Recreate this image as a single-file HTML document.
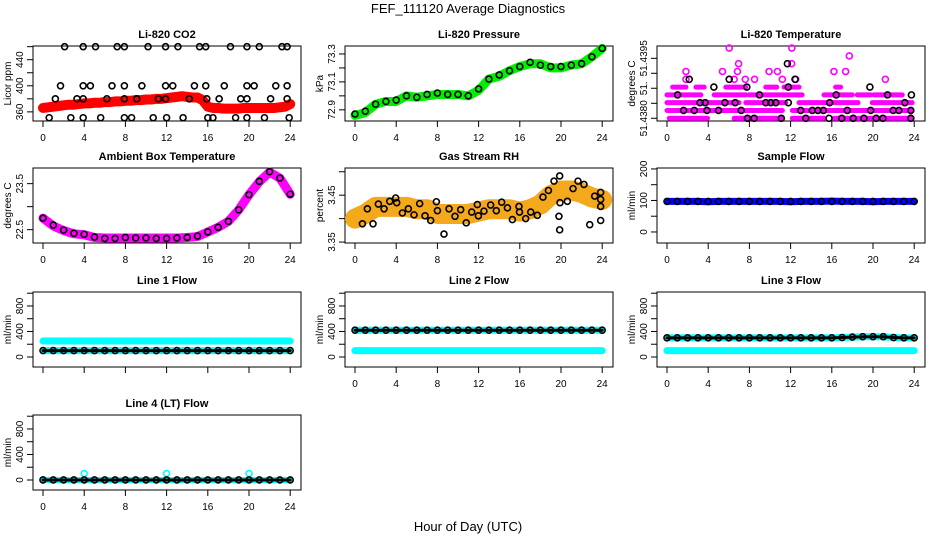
<!DOCTYPE html>
<html><head><meta charset="utf-8"><style>
html,body{margin:0;padding:0;background:#fff;}
svg{display:block;font-family:"Liberation Sans",sans-serif;}
</style></head><body>
<svg id="c" width="936" height="540" viewBox="0 0 936 540">
<text x="468" y="13" text-anchor="middle" font-size="13">FEF_111120  Average Diagnostics</text>
<text x="468" y="531" text-anchor="middle" font-size="13">Hour of Day (UTC)</text>
</svg>
<script>
// ---------- data ----------
const xTicks = [0,4,8,12,16,20,24];
// CO2
const co2Red = [366,367,368,369,370,371,371,372,373,373,374,374,375,375,376,376,377,377,378,378,379,379,380,380,381,382,383,384,383,382,382,378,368,366,366,365,365,365,365,366,366,366,366,366,366,366,367,368,372];
const co2BlkH = [2.1,3.9,5.1,7.2,7.9,10.2,11.9,13.1,15.2,15.8,18.2,19.8,21.0,23.2,23.7, 1.7,3.9,4.6,6.7,7.9,9.6,11.9,12.6,14.7,15.8,17.6,19.8,20.5,22.6,23.7, 1.2,3.3,3.9,6.2,7.9,9.1,11.2,11.9,14.2,15.9,17.1,19.2,19.8,22.1,23.7, 0.6,2.7,3.9,5.6,7.9,8.6,10.7,12.0,13.6,16.0,16.5,18.7,19.8,21.5,23.9];
const co2BlkV = [460,460,460,460,460,460,460,460,460,460,460,460,460,460,460, 400,400,400,400,400,400,400,400,400,400,400,400,400,400,400, 380,380,380,380,380,380,380,380,380,380,380,380,380,380,380, 351,351,351,351,351,351,351,351,351,351,351,351,351,351,351];
// Pressure
const presGreen = [72.86,72.88,72.94,72.96,72.96,73.0,72.99,73.0,73.01,73.01,73.01,73.0,73.04,73.12,73.14,73.18,73.21,73.23,73.23,73.2,73.2,73.22,73.23,73.28,73.34];
const presBlack = [72.87,72.89,72.94,72.96,72.97,73.0,72.99,73.01,73.02,73.01,73.01,73.0,73.05,73.12,73.15,73.18,73.21,73.24,73.22,73.21,73.21,73.22,73.23,73.28,73.34];
// Li-820 temperature (quantized levels)
const tempSegLvl = [0,0,0,0, 1,1, 2,2,2,2, 3,3,3,3,3,3, 4,4,4,4,4,4];
const tempSegA   = [0.22,6.52,12.17,16.21, 0,12.17, 0,7.65,12.82,19.93, 0,4.58,7.97,15.24,18.47,20.09, 0.55,2.81,5.71,9.59,11.36,16.37];
const tempSegB   = [3.94,11.2,15.24,23.8, 11.2,23.8, 7.0,11.52,18.64,23.8, 3.29,7.65,13.14,17.99,19.77,22.84, 1.84,3.61,7.65,10.72,12.82,16.86];
const tempMagH = [1.84,5.39,6.84,9.91,10.72,16.21,17.34, 1.84,6.52,7.6,8.5,11.2,12.5,21.2, 6.95,12.1, 17.7, 6.04,12.12];
const tempMagL = [6,6,6,6,6,6,6, 5,5,5,5,5,5,5, 7,7, 8, 9,9];
const tempBlkH = [2.16,1.03,1.61,2.65,3.2,3.71,3.88,4.55,5.0,5.62,6.04,6.62,7.2,7.75,7.81,8.46,8.98,9.59,10.08,10.56,11.1,11.69,11.78,11.78,12.43,12.98,13.47,14.11,14.66,15.18,15.79,15.73,16.43,16.96,17.5,18.08,19.12,19.7,19.77,20.31,20.96,21.41,21.96,22.51,23.09,23.67,23.73,23.67];
const tempBlkL = [5,3,1,1,2,2,1,4,1,2,5,2,1,4,0,0,3,2,2,2,0,7,4,2,5,1,0,1,1,1,2,0,3,0,1,0,0,4,1,0,0,3,1,1,2,1,3,0];
// Ambient box temperature
const ambMag = [22.75,22.58,22.48,22.41,22.39,22.33,22.32,22.32,22.32,22.32,22.32,22.32,22.32,22.32,22.33,22.35,22.45,22.55,22.68,22.93,23.26,23.54,23.75,23.62,23.27];
const ambBlk = [22.75,22.6,22.49,22.42,22.4,22.34,22.31,22.31,22.33,22.32,22.32,22.31,22.31,22.32,22.33,22.36,22.45,22.55,22.68,22.93,23.26,23.55,23.76,23.62,23.27];
// Gas stream RH
const rhOrange = [3.40,3.41,3.425,3.425,3.425,3.425,3.42,3.42,3.41,3.41,3.41,3.41,3.415,3.42,3.42,3.42,3.415,3.42,3.43,3.45,3.46,3.46,3.455,3.445,3.44];
const rhBlkH = [0.72,1.2,1.75,2.27,2.82,3.37,3.95,4.05,4.6,5.18,5.73,6.28,6.8,7.35,7.9,8.0,8.64,9.13,9.71,10.26,10.8,11.33,11.88,11.98,12.52,13.17,13.72,14.24,14.8,15.28,15.92,15.97,16.57,17.06,17.7,18.25,18.78,19.32,19.87,19.9,19.8,19.87,20.62,21.17,21.65,22.23,22.79,23.27,23.85,23.85,23.85,23.85];
const rhBlkV = [3.389,3.421,3.389,3.431,3.421,3.437,3.444,3.434,3.412,3.421,3.408,3.432,3.406,3.396,3.436,3.417,3.367,3.421,3.405,3.419,3.391,3.414,3.43,3.406,3.416,3.429,3.417,3.435,3.423,3.398,3.426,3.414,3.4,3.414,3.407,3.446,3.46,3.48,3.491,3.434,3.405,3.376,3.437,3.464,3.48,3.473,3.387,3.448,3.456,3.441,3.426,3.396];
// Flows (hourly)
const sampleBlue  = [97,97,97,97,96,97,97,97,97,97,97,97,96,97,97,97,98,97,97,97,96,97,97,97,97];
const sampleBlack = [97,97,97,97,97,97,97,97,97,97,97,97,97,97,97,97,97,97,97,97,97,97,97,97,97];
const line1Cyan  = [250,250,250,250,250,250,250,250,250,250,250,250,250,250,250,250,250,250,250,250,250,250,250,250,250];
const line1Black = [100,100,100,100,100,100,100,100,100,100,100,100,100,100,100,100,100,100,100,100,100,100,100,100,100];
const line2Black = [420,420,420,420,420,420,420,420,420,420,420,420,420,420,420,420,420,420,420,420,420,420,420,420,420];
const line2Cyan  = [100,100,100,100,100,100,100,100,100,100,100,100,100,100,100,100,100,100,100,100,100,100,100,100,100];
const line3Black = [300,300,300,300,300,300,300,300,300,300,300,300,300,300,300,300,300,305,312,318,318,318,305,300,300];
const line3Cyan  = [100,100,100,100,100,100,100,100,100,100,100,100,100,100,100,100,100,100,100,100,100,100,100,100,100];
const line4Black = [0,0,0,0,0,0,0,0,0,0,0,0,0,0,0,0,0,0,0,0,0,0,0,0,0];
const line4CyanH = [0,4,12,20];
const line4CyanV = [0,100,100,100];

// ---------- drawing ----------
const svg = document.getElementById('c');
const NS = 'http://www.w3.org/2000/svg';
const ROWT = [46,168,292,415];
function mk(tag, attrs, parent){
  const e = document.createElementNS(NS, tag);
  for (const k in attrs) e.setAttribute(k, attrs[k]);
  (parent||svg).appendChild(e);
  return e;
}
function hrs(n){ const a=[]; for(let i=0;i<n;i++) a.push(i*24/(n-1)); return a; }

function panel(col,row,title,ylab,ymin,ymax,yt,ytl,xlabels,name){
  const g = mk('g',{});
  
  
  const L=33+col*312, R=301+col*312, T=ROWT[row], B=T+75;
  const sx = h => 43+col*312+h*10.3;
  const sy = v => B-(v-ymin)/(ymax-ymin)*75;
  const t = mk('text',{x:(L+R)/2,y:T-8,'text-anchor':'middle','font-size':11,'font-weight':'bold'},g);
  t.textContent = title;
  
  
  const box = mk('rect',{x:L,y:T,width:R-L,height:75,fill:'none',stroke:'#000','stroke-width':1},g);
  
  
  xTicks.forEach(h=>{
    mk('line',{x1:sx(h),x2:sx(h),y1:B,y2:B+6,stroke:'#000'},g);
    if (xlabels){
      const tl = mk('text',{x:sx(h),y:B+20,'text-anchor':'middle','font-size':10},g);
      tl.textContent = h;
      
      
    }
  });
  yt.forEach((v,i)=>{
    mk('line',{x1:L-6,x2:L,y1:sy(v),y2:sy(v),stroke:'#000'},g);
    if (ytl[i]){
      const tl = mk('text',{x:0,y:0,'text-anchor':'middle','font-size':10,transform:`translate(${L-10},${sy(v)}) rotate(-90)`},g);
      tl.textContent = ytl[i];
      
      
    }
  });
  const yl = mk('text',{x:0,y:0,'text-anchor':'middle','font-size':10,transform:`translate(${L-22},${(T+B)/2}) rotate(-90)`},g);
  yl.textContent = ylab;
  
  
  const clip = mk('g',{},g);
  return {g:clip,sx,sy};
}
function band(p,hs,vs,color,w,name){
  const pts = hs.map((h,i)=>p.sx(h)+','+p.sy(vs[i])).join(' ');
  const e = mk('polyline',{points:pts,fill:'none',stroke:color,'stroke-width':w,'stroke-linejoin':'round','stroke-linecap':'round'},p.g);
  
  
}
function pts(p,hs,vs,color,name,r,sw){
  hs.forEach((h,i)=>{
    const c = mk('circle',{cx:p.sx(h),cy:p.sy(vs[i]),r:r||3,fill:'none',stroke:color,'stroke-width':sw||1.6},p.g);
    
    
  });
}

// Row 1
let p = panel(0,0,'Li-820 CO2','Licor ppm',346,461,[360,380,400,420,440,460],['360','','400','','440',''],true,'panel-co2');
band(p,hrs(co2Red.length),co2Red,'#ff0000',10,'co2-band');
pts(p,hrs(co2Red.length),co2Red,'#ff0000','co2-point');
pts(p,co2BlkH,co2BlkV,'#000','co2-avg-point');

p = panel(1,0,'Li-820 Pressure','kPa',72.82,73.357,[72.9,73.0,73.1,73.2,73.3],['72.9','','73.1','','73.3'],true,'panel-pressure');
band(p,hrs(presGreen.length),presGreen,'#00ee00',9,'pressure-band');
pts(p,hrs(presGreen.length),presGreen,'#00ee00','pressure-point');
pts(p,hrs(presBlack.length),presBlack,'#000','pressure-avg-point');

p = panel(2,0,'Li-820 Temperature','degrees C',-0.35,9.27,[0,1.92,3.85,5.77,7.69],['51.4380','','51.','','51.4395'],true,'panel-licor-temp');
tempSegLvl.forEach((l,i)=>{
  const e = mk('line',{x1:p.sx(tempSegA[i]),x2:p.sx(tempSegB[i]),y1:p.sy(l),y2:p.sy(l),stroke:'#ff00ff','stroke-width':5,'stroke-linecap':'round','stroke-dasharray':'5 1'},p.g);
  
  
});
pts(p,tempMagH,tempMagL,'#ff00ff','temp-point');
pts(p,tempBlkH,tempBlkL,'#000','temp-avg-point');

// Row 2
p = panel(0,1,'Ambient Box Temperature','degrees C',22.21,23.84,[22.5,23.0,23.5],['22.5','','23.5'],true,'panel-ambient-temp');
band(p,hrs(ambMag.length),ambMag,'#ff00ff',9,'ambient-band');
pts(p,hrs(ambBlk.length),ambBlk,'#000','ambient-avg-point');

p = panel(1,1,'Gas Stream RH','percent',3.348,3.508,[3.35,3.40,3.45,3.50],['3.35','','3.45',''],true,'panel-rh');
band(p,hrs(rhOrange.length),rhOrange,'#f4a81c',20,'rh-band');
pts(p,rhBlkH,rhBlkV,'#000','rh-avg-point');

p = panel(2,1,'Sample Flow','ml/min',-35,203,[0,50,100,150,200],['0','','100','','200'],true,'panel-sample-flow');
band(p,hrs(sampleBlue.length),sampleBlue,'#0000ff',7,'sample-band');
pts(p,hrs(sampleBlack.length),sampleBlack,'#000','sample-avg-point');

// Row 3
const fT=[0,200,400,600,800,1000], fL=['0','','400','','800',''];
p = panel(0,2,'Line 1 Flow','ml/min',-157,1019,fT,fL,false,'panel-line1');
band(p,hrs(line1Cyan.length),line1Cyan,'#00ffff',7,'line1-band-high');
band(p,hrs(line1Black.length),line1Black,'#00ffff',7,'line1-band-low');
band(p,hrs(line1Black.length),line1Black,'#000',3,'line1-avg-line');
pts(p,hrs(line1Black.length),line1Black,'#000','line1-avg-point');

p = panel(1,2,'Line 2 Flow','ml/min',-157,1019,fT,fL,true,'panel-line2');
band(p,hrs(line2Cyan.length),line2Cyan,'#00ffff',7,'line2-band-low');
band(p,hrs(line2Black.length),line2Black,'#00ffff',7,'line2-band-high');
band(p,hrs(line2Black.length),line2Black,'#000',3,'line2-avg-line');
pts(p,hrs(line2Black.length),line2Black,'#000','line2-avg-point');

p = panel(2,2,'Line 3 Flow','ml/min',-157,1019,fT,fL,true,'panel-line3');
band(p,hrs(line3Cyan.length),line3Cyan,'#00ffff',7,'line3-band-low');
band(p,hrs(line3Black.length),line3Black,'#00ffff',7,'line3-band-high');
band(p,hrs(line3Black.length),line3Black,'#000',3,'line3-avg-line');
pts(p,hrs(line3Black.length),line3Black,'#000','line3-avg-point');

// Row 4
p = panel(0,3,'Line 4 (LT) Flow','ml/min',-157,1019,fT,fL,true,'panel-line4');
band(p,hrs(line4Black.length),line4Black,'#00ffff',6,'line4-band');
pts(p,line4CyanH,line4CyanV,'#00ffff','line4-point');
band(p,hrs(line4Black.length),line4Black,'#000',3,'line4-avg-line');
pts(p,hrs(line4Black.length),line4Black,'#000','line4-avg-point');
</script>
</body></html>
